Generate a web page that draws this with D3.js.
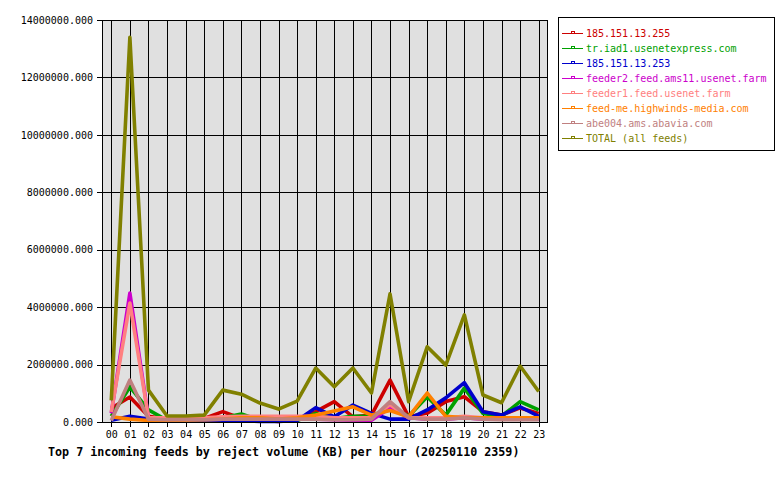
<!DOCTYPE html>
<html>
<head>
<meta charset="utf-8">
<script src="https://cdn.jsdelivr.net/npm/d3@7"></script>
<style>
	body { margin:0; background:#fff; }
	svg text { font-family: "DejaVu Sans Mono", monospace; }
</style>
</head>
<body>
<div id="chart"></div>
<script>

	//data (KB per hour)
	const hours = ["00","01","02","03","04","05","06","07","08","09","10","11",
		"12","13","14","15","16","17","18","19","20","21","22","23"];

	const feedNames = ["185.151.13.255", "tr.iad1.usenetexpress.com", "185.151.13.253",
		"feeder2.feed.ams11.usenet.farm", "feeder1.feed.usenet.farm",
		"feed-me.highwinds-media.com", "abe004.ams.abavia.com", "TOTAL (all feeds)"];

	const feedColors = ["#cc0000", "#00a000", "#0000cc", "#cc00cc", "#ff8080", "#ff8000", "#c08080", "#808000"];

	const red = [480000, 870000, 200000, 100000, 100000, 120000, 360000, 120000, 60000, 20000, 100000, 360000,
		710000, 180000, 240000, 1460000, 180000, 310000, 710000, 880000, 360000, 240000, 490000, 300000];
	const green = [200000, 1220000, 420000, 60000, 50000, 60000, 150000, 280000, 60000, 40000, 50000, 300000,
		120000, 200000, 200000, 500000, 200000, 880000, 240000, 1180000, 300000, 200000, 710000, 420000];
	const blue = [60000, 200000, 100000, 40000, 30000, 30000, 60000, 40000, 20000, 20000, 50000, 500000,
		180000, 590000, 300000, 100000, 100000, 420000, 840000, 1370000, 360000, 240000, 530000, 200000];
	const magenta = [300000, 4490000, 150000, 100000, 100000, 100000, 100000, 100000, 100000, 100000, 100000, 100000,
		80000, 60000, 60000, 490000, 150000, 100000, 100000, 150000, 100000, 100000, 100000, 100000];
	const pink = [350000, 4140000, 150000, 150000, 150000, 150000, 180000, 200000, 200000, 200000, 200000, 200000,
		150000, 150000, 150000, 600000, 150000, 150000, 150000, 200000, 150000, 150000, 150000, 150000];
	const orange = [180000, 100000, 50000, 60000, 60000, 80000, 100000, 150000, 150000, 100000, 150000, 240000,
		380000, 530000, 240000, 400000, 180000, 1010000, 200000, 150000, 150000, 150000, 150000, 150000];
	const rosy = [50000, 1460000, 100000, 80000, 80000, 80000, 100000, 100000, 100000, 100000, 100000, 100000,
		80000, 80000, 100000, 710000, 150000, 100000, 100000, 150000, 100000, 80000, 80000, 80000];
	const total = [750000, 13400000, 1110000, 210000, 210000, 240000, 1110000, 970000, 660000, 450000, 730000, 1880000,
		1230000, 1880000, 1010000, 4460000, 710000, 2620000, 1980000, 3730000, 940000, 670000, 1950000, 1060000];

	const yTicks = [0, 2000000, 4000000, 6000000, 8000000, 10000000, 12000000, 14000000];

	const series = [red, green, blue, magenta, pink, orange, rosy, total];

	//sizing
	const width = 780, height = 480;
	const plot = {left:102, right:548, top:20, bottom:422};

	let svg = d3.select("#chart")
		.append("svg")
		.attr("width", width)
		.attr("height", height);

	let x = d3.scalePoint()
		.domain(hours)
		.range([plot.left, plot.right])
		.padding(0.5);

	let y = d3.scaleLinear()
		.domain([0, 14000000])
		.range([plot.bottom, plot.top]);

	//plot background
	svg.append("rect")
		.attr("x", plot.left)
		.attr("y", plot.top)
		.attr("width", plot.right - plot.left)
		.attr("height", plot.bottom - plot.top)
		.attr("fill", "#e0e0e0");

	//grid
	svg.append("g")
		.selectAll("line")
		.data(hours)
		.enter().append("line")
		.attr("x1", d => Math.round(x(d)) + 0.5)
		.attr("x2", d => Math.round(x(d)) + 0.5)
		.attr("y1", plot.top)
		.attr("y2", plot.bottom)
		.attr("stroke", "#000")
		.attr("shape-rendering", "crispEdges");

	svg.append("g")
		.selectAll("line")
		.data(yTicks)
		.enter().append("line")
		.attr("x1", plot.left)
		.attr("x2", plot.right)
		.attr("y1", d => Math.round(y(d)) + 0.5)
		.attr("y2", d => Math.round(y(d)) + 0.5)
		.attr("stroke", "#000")
		.attr("shape-rendering", "crispEdges");

	//axes
	let yAxis = svg.append("g")
		.attr("transform", "translate(" + plot.left + ",0)")
		.call(d3.axisLeft(y).tickValues(yTicks).tickFormat(d3.format(".3f")).tickSize(5).tickPadding(4));

	let xAxis = svg.append("g")
		.attr("transform", "translate(0," + plot.bottom + ")")
		.call(d3.axisBottom(x).tickSize(5).tickPadding(4));

	[xAxis, yAxis].forEach(a => {
		a.select(".domain").remove();
		a.selectAll("line").attr("stroke", "#000").attr("shape-rendering", "crispEdges");
		a.selectAll("text")
			.attr("fill", "#000")
			.style("font-family", "'DejaVu Sans Mono', monospace")
			.style("font-size", "10px");
	});

	//lines
	let line = d3.line()
		.x((d, i) => x(hours[i]))
		.y(d => y(d));

	svg.append("g")
		.selectAll("path")
		.data(series)
		.enter().append("path")
		.attr("d", line)
		.attr("fill", "none")
		.attr("stroke", (d, i) => feedColors[i])
		.attr("stroke-width", 3.6)
		.attr("stroke-linejoin", "round");

	//plot border
	svg.append("rect")
		.attr("x", plot.left + 0.5)
		.attr("y", plot.top + 0.5)
		.attr("width", plot.right - plot.left - 1)
		.attr("height", plot.bottom - plot.top)
		.attr("fill", "none")
		.attr("stroke", "#000")
		.attr("stroke-width", 1.5)
		.attr("shape-rendering", "crispEdges");

	//legend
	let legend = svg.append("g");

	legend.append("rect")
		.attr("x", 558.5)
		.attr("y", 17.5)
		.attr("width", 216)
		.attr("height", 133)
		.attr("fill", "#fff")
		.attr("stroke", "#000")
		.attr("stroke-width", 1.5)
		.attr("shape-rendering", "crispEdges");

	let items = legend.selectAll(".item")
		.data(feedNames)
		.enter().append("g")
		.attr("class", "item")
		.attr("transform", (d, i) => "translate(0," + (33 + i * 15) + ")");

	items.append("line")
		.attr("x1", 562).attr("x2", 583)
		.attr("y1", 0.5).attr("y2", 0.5)
		.attr("stroke", (d, i) => feedColors[i])
		.attr("shape-rendering", "crispEdges");

	items.append("rect")
		.attr("x", 571.5).attr("y", -1.5)
		.attr("width", 3).attr("height", 2)
		.attr("fill", "#fff")
		.attr("stroke", (d, i) => feedColors[i])
		.attr("shape-rendering", "crispEdges");

	items.append("text")
		.attr("x", 586)
		.attr("y", 4)
		.attr("fill", (d, i) => feedColors[i])
		.style("font-size", "10px")
		.text(d => d);

	//title
	svg.append("text")
		.attr("x", 48)
		.attr("y", 456)
		.attr("fill", "#000")
		.style("font-size", "11.7px")
		.style("font-weight", "bold")
		.text("Top 7 incoming feeds by reject volume (KB) per hour (20250110 2359)");

</script>
</body>
</html>
